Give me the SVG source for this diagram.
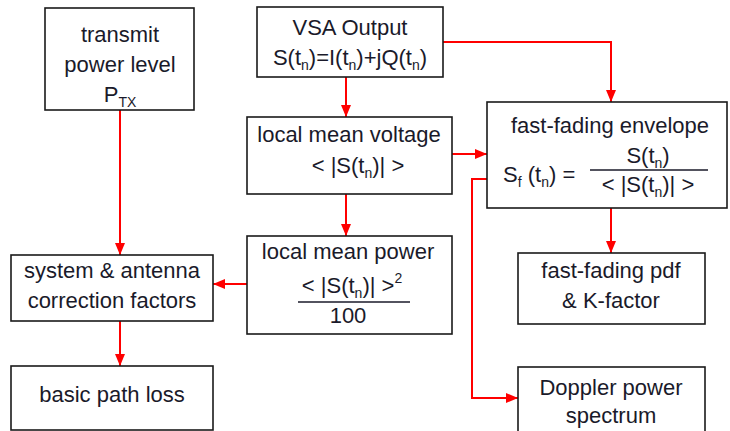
<svg xmlns="http://www.w3.org/2000/svg" width="730" height="431" viewBox="0 0 730 431">
<defs>
<style>
.box{fill:#fff;stroke:#1a1a1a;stroke-width:1.6}
.t{font-family:"Liberation Sans",Arial,sans-serif;font-size:22px;fill:#1a1a2a;text-anchor:middle}
.s{font-size:14px}
.c{fill:none;stroke:#f00;stroke-width:2}
.fl{stroke:#1a1a2a;stroke-width:1.4}
</style>
<marker id="ah" viewBox="0 0 12 10" refX="12" refY="5" markerWidth="12" markerHeight="10" markerUnits="userSpaceOnUse" orient="auto">
<path d="M0,0 L12,5 L0,10 Z" fill="#f00"/>
</marker>
</defs>
<rect width="730" height="431" fill="#fff"/>
<g id="connectors">
<path class="c" d="M120,110 V255" marker-end="url(#ah)"/>
<path class="c" d="M346,77 V117" marker-end="url(#ah)"/>
<path class="c" d="M443,42 H611 V102" marker-end="url(#ah)"/>
<path class="c" d="M452,154 H487" marker-end="url(#ah)"/>
<path class="c" d="M346,194 V236" marker-end="url(#ah)"/>
<path class="c" d="M247,284 H213" marker-end="url(#ah)"/>
<path class="c" d="M120,321 V366" marker-end="url(#ah)"/>
<path class="c" d="M611,208 V253" marker-end="url(#ah)"/>
<path class="c" d="M487,179 H472 V398 H518" marker-end="url(#ah)"/>
</g>
<g id="transmit">
<rect class="box" x="45" y="8" width="149" height="102"/>
<text class="t" x="120" y="42">transmit</text>
<text class="t" x="120" y="72">power level</text>
<text class="t" x="120" y="102">P<tspan class="s" dy="5">TX</tspan></text>
</g>
<g id="vsa">
<rect class="box" x="257" y="7" width="186" height="70"/>
<text class="t" x="350" y="35">VSA Output</text>
<text class="t" x="350" y="65">S(t<tspan class="s" dy="5">n</tspan><tspan dy="-5">)=I(t</tspan><tspan class="s" dy="5">n</tspan><tspan dy="-5">)+jQ(t</tspan><tspan class="s" dy="5">n</tspan><tspan dy="-5">)</tspan></text>
</g>
<g id="voltage">
<rect class="box" x="247" y="117" width="205" height="77"/>
<text class="t" x="349" y="142">local mean voltage</text>
<text class="t" x="358" y="173">&lt; |S(t<tspan class="s" dy="5">n</tspan><tspan dy="-5">)| &gt;</tspan></text>
</g>
<g id="envelope">
<rect class="box" x="487" y="102" width="240" height="106"/>
<text class="t" x="610" y="133">fast-fading envelope</text>
<text class="t" x="503" y="182" style="text-anchor:start">S<tspan class="s" dy="5">f</tspan><tspan dy="-5"> (t</tspan><tspan class="s" dy="5">n</tspan><tspan dy="-5">) =</tspan></text>
<text class="t" x="648" y="163">S(t<tspan class="s" dy="5">n</tspan><tspan dy="-5">)</tspan></text>
<line class="fl" x1="590" y1="170" x2="708" y2="170"/>
<text class="t" x="648" y="192">&lt; |S(t<tspan class="s" dy="5">n</tspan><tspan dy="-5">)| &gt;</tspan></text>
</g>
<g id="power">
<rect class="box" x="247" y="236" width="205" height="98"/>
<text class="t" x="348" y="259">local mean power</text>
<text class="t" x="352" y="293">&lt; |S(t<tspan class="s" dy="5">n</tspan><tspan dy="-5">)| &gt;</tspan><tspan class="s" dy="-10">2</tspan></text>
<line class="fl" x1="298" y1="302" x2="410" y2="302"/>
<text class="t" x="348" y="323">100</text>
</g>
<g id="correction">
<rect class="box" x="11" y="255" width="202" height="66"/>
<text class="t" x="112" y="278">system &amp; antenna</text>
<text class="t" x="112" y="308">correction factors</text>
</g>
<g id="pathloss">
<rect class="box" x="11" y="366" width="202" height="64"/>
<text class="t" x="112" y="402">basic path loss</text>
</g>
<g id="pdf">
<rect class="box" x="518" y="253" width="187" height="71"/>
<text class="t" x="611" y="278">fast-fading pdf</text>
<text class="t" x="611" y="308">&amp; K-factor</text>
</g>
<g id="doppler">
<rect class="box" x="518" y="367" width="187" height="70"/>
<text class="t" x="611" y="395">Doppler power</text>
<text class="t" x="611" y="423">spectrum</text>
</g>
</svg>
